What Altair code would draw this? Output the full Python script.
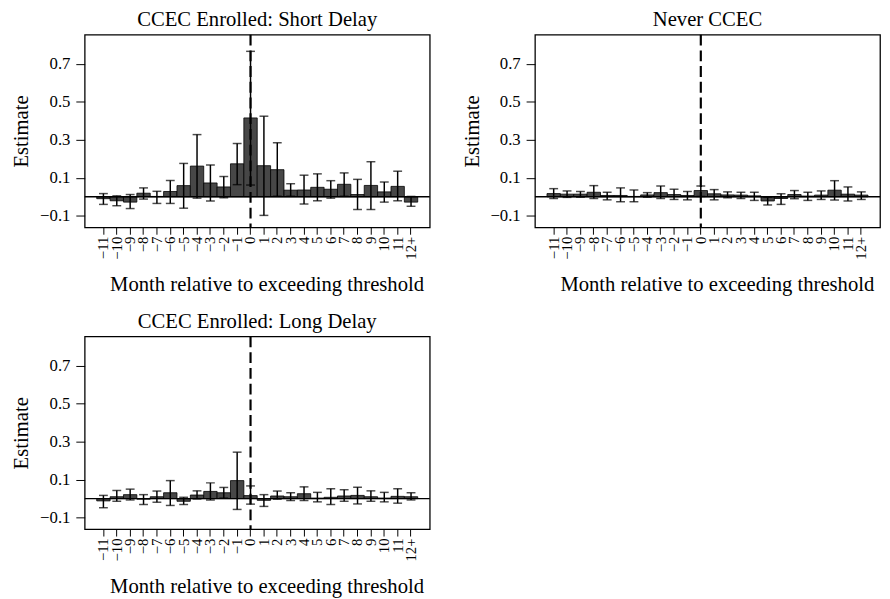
import altair as alt
import pandas as pd

months = ["−11", "−10", "−9", "−8", "−7", "−6", "−5", "−4", "−3", "−2", "−1", "0",
          "1", "2", "3", "4", "5", "6", "7", "8", "9", "10", "11", "12+"]

# CCEC Enrolled: Short Delay
est_short = [-0.010, -0.021, -0.028, 0.019, 0.002, 0.028, 0.059, 0.162, 0.073, 0.052, 0.174, 0.416,
             0.164, 0.143, 0.035, 0.036, 0.050, 0.040, 0.066, 0.012, 0.060, 0.026, 0.055, -0.028]
lo_short = [-0.040, -0.047, -0.062, -0.012, -0.035, -0.035, -0.060, -0.007, -0.022, -0.005, 0.064, 0.062,
            -0.098, 0.003, 0.003, -0.038, -0.021, -0.007, 0.003, -0.067, -0.067, -0.028, -0.021, -0.050]
hi_short = [0.017, 0.005, 0.012, 0.047, 0.029, 0.086, 0.176, 0.328, 0.168, 0.107, 0.281, 0.767,
            0.425, 0.285, 0.069, 0.114, 0.121, 0.085, 0.126, 0.092, 0.185, 0.078, 0.135, 0.002]

# Never CCEC
est_never = [0.017, 0.014, 0.014, 0.024, 0.007, 0.007, 0.002, 0.010, 0.022, 0.012, 0.007, 0.033,
             0.016, 0.010, 0.009, 0.005, -0.022, -0.009, 0.012, 0.004, 0.009, 0.035, 0.014, 0.009]
lo_never = [-0.009, -0.003, -0.002, -0.009, -0.016, -0.026, -0.026, -0.002, -0.009, -0.014, -0.016, 0.002,
            -0.016, -0.005, -0.009, -0.019, -0.043, -0.040, -0.010, -0.019, -0.014, -0.017, -0.022, -0.014]
hi_never = [0.043, 0.031, 0.028, 0.059, 0.024, 0.047, 0.036, 0.022, 0.057, 0.040, 0.028, 0.057,
            0.038, 0.026, 0.024, 0.024, -0.002, 0.016, 0.033, 0.024, 0.031, 0.085, 0.052, 0.026]

# CCEC Enrolled: Long Delay
est_long = [-0.012, 0.010, 0.021, -0.003, 0.010, 0.031, -0.014, 0.019, 0.038, 0.031, 0.095, 0.016,
            -0.009, 0.014, 0.010, 0.026, 0.003, 0.007, 0.014, 0.017, 0.010, 0.003, 0.012, 0.010]
lo_long = [-0.048, -0.014, -0.007, -0.031, -0.019, -0.036, -0.031, -0.002, -0.007, 0.003, -0.057, -0.029,
           -0.041, -0.003, -0.010, -0.010, -0.017, -0.031, -0.014, -0.028, -0.014, -0.017, -0.024, -0.007]
hi_long = [0.017, 0.043, 0.050, 0.021, 0.040, 0.095, 0.007, 0.041, 0.083, 0.059, 0.245, 0.067,
           0.021, 0.040, 0.031, 0.062, 0.033, 0.052, 0.047, 0.060, 0.041, 0.033, 0.052, 0.031]

y_ticks = [-0.1, 0.1, 0.3, 0.5, 0.7]
FONT = "Liberation Serif"
W, H = 351, 196


def panel(title, est, lo, hi, width=W):
    df = pd.DataFrame({"month": months, "est": est, "lo": lo, "hi": hi})
    xscale = alt.Scale(domain=months, paddingInner=0, paddingOuter=0.9)
    xs = alt.X("month:N", sort=None, scale=xscale,
               axis=alt.Axis(title="Month relative to exceeding threshold", labelAngle=270,
                             labelAlign="right", labelBaseline="middle", labelFontSize=15,
                             labelFont=FONT, titleFont=FONT,
                             tickSize=7, labelPadding=2, titlePadding=15, titleFontSize=21,
                             titleX=185, titleAlign="center",
                             domain=False, tickColor="black", labelColor="black",
                             titleColor="black", titleFontWeight="normal"))
    xplain = alt.X("month:N", sort=None, scale=xscale)
    ys = alt.Y("est:Q", scale=alt.Scale(domain=[-0.161, 0.855], nice=False, zero=False),
               axis=alt.Axis(title="Estimate", values=y_ticks, format=".1f", grid=False,
                             labelFont=FONT, titleFont=FONT,
                             labelFontSize=17, tickSize=9, labelPadding=6, titlePadding=8,
                             titleFontSize=21, domain=False, tickColor="black",
                             labelColor="black", titleColor="black", titleFontWeight="normal"))
    base = alt.Chart(df)
    bars = base.mark_bar(color="#474747", stroke="black", strokeWidth=0.8).encode(
        x=xs, y=ys, y2=alt.datum(0))
    err = base.mark_rule(color="black", strokeWidth=1.5).encode(x=xplain, y="lo:Q", y2="hi:Q")
    cap_lo = base.mark_tick(color="black", size=9, thickness=1.5, orient="horizontal").encode(
        x=xplain, y="lo:Q")
    cap_hi = base.mark_tick(color="black", size=9, thickness=1.5, orient="horizontal").encode(
        x=xplain, y="hi:Q")
    zero = alt.Chart(pd.DataFrame({"z": [0.0]})).mark_rule(color="black", strokeWidth=1.5).encode(
        y="z:Q")
    vline = alt.Chart(pd.DataFrame({"m": ["0"]})).mark_rule(
        color="black", strokeWidth=2.2, strokeDash=[11, 5]).encode(
        x=alt.X("m:N", sort=None, scale=xscale))
    return alt.layer(bars, zero, vline, err, cap_lo, cap_hi).properties(
        width=width, height=H,
        title=alt.TitleParams(title, fontSize=21, font=FONT, fontWeight="normal",
                              color="black", offset=4))


p1 = panel("CCEC Enrolled: Short Delay", est_short, lo_short, hi_short)
p2 = panel("Never CCEC", est_never, lo_never, hi_never)
p3 = panel("CCEC Enrolled: Long Delay", est_long, lo_long, hi_long)

chart = alt.vconcat(alt.hconcat(p1, p2, spacing=29), p3, spacing=14).properties(
    padding={"left": 2, "top": -5, "right": 0, "bottom": 0}
).configure(font=FONT).configure_view(stroke="black", strokeWidth=1.3).configure_axis(
    labelFont=FONT, titleFont=FONT)

chart.save("out.html", embed_options={"renderer": "svg", "actions": False})
